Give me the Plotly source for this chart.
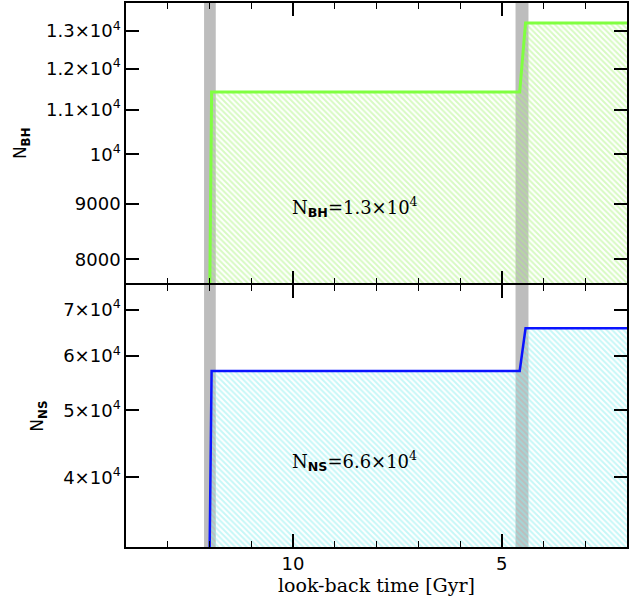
import plotly.graph_objects as go
import numpy as np

# ---- data ----
time_gyr = [12.0, 11.95, 4.57, 4.43, 2.0]          # look-back time [Gyr]
n_bh = [7000, 11415, 11415, 13224, 13224]
n_ns = [30000, 57040, 57040, 65800, 65800]
band_start = [12.13, 4.67]
band_end = [11.85, 4.36]
bh_ticks = [8000, 9000, 10000, 11000, 12000, 13000]
bh_ticktext = ["8000", "9000", "10<sup>4</sup>", "1.1×10<sup>4</sup>",
               "1.2×10<sup>4</sup>", "1.3×10<sup>4</sup>"]
ns_ticks = [40000, 50000, 60000, 70000]
ns_ticktext = ["4×10<sup>4</sup>", "5×10<sup>4</sup>", "6×10<sup>4</sup>", "7×10<sup>4</sup>"]
x_ticks = [10, 5]
x_ticktext = ["10", "5"]

SANS = "DejaVu Sans, Liberation Sans, sans-serif"
SERIF = "DejaVu Serif, Liberation Serif, serif"

fig = go.Figure()

# bottom panel (NS)
fig.add_trace(go.Scatter(
    x=time_gyr, y=n_ns, mode="lines", xaxis="x", yaxis="y",
    line=dict(color="#0a14ff", width=2.5),
    fill="tozeroy", fillcolor="rgba(0,0,0,0)",
    fillpattern=dict(shape="\\", fgcolor="#8ef0f0", bgcolor="rgba(255,255,255,0)",
                     size=4, solidity=0.5),
    showlegend=False, hoverinfo="skip"))
# top panel (BH)
fig.add_trace(go.Scatter(
    x=time_gyr, y=n_bh, mode="lines", xaxis="x2", yaxis="y2",
    line=dict(color="#80ff40", width=3),
    fill="tozeroy", fillcolor="rgba(0,0,0,0)",
    fillpattern=dict(shape="\\", fgcolor="#b0f585", bgcolor="rgba(255,255,255,0)",
                     size=4, solidity=0.5),
    showlegend=False, hoverinfo="skip"))

shapes = []
for a, b in zip(band_start, band_end):
    shapes.append(dict(type="rect", xref="x", yref="paper", x0=a, x1=b, y0=0, y1=1,
                       fillcolor="#bdbdbd", line=dict(width=0), layer="below"))

split = 0.4816
overlap = 0.0028
axis_common = dict(showline=True, linecolor="black", linewidth=1.5, mirror="allticks",
                   ticks="inside", tickcolor="black", tickwidth=1.5, showgrid=False,
                   zeroline=False)

xcommon = dict(axis_common, range=[14, 2], tickvals=x_ticks, ticklen=13,
               minor=dict(dtick=1, tick0=0, ticklen=6, ticks="inside",
                          tickcolor="black", tickwidth=1.3, showgrid=False))

fig.update_layout(
    width=630, height=610,
    margin=dict(l=126, r=1, t=3, b=63),
    paper_bgcolor="white", plot_bgcolor="rgba(0,0,0,0)",
    shapes=shapes,
    xaxis=dict(xcommon, domain=[0, 1], anchor="y", ticktext=x_ticktext,
               tickfont=dict(family=SANS, size=18, color="black"),
               title=dict(text="look-back time [Gyr]",
                          font=dict(family=SERIF, size=19, color="black"), standoff=4)),
    xaxis2=dict(xcommon, domain=[0, 1], anchor="y2", matches="x", showticklabels=False),
    yaxis=dict(axis_common, type="log", domain=[0, split], anchor="x",
               range=[np.log10(31690), np.log10(76020)],
               tickvals=ns_ticks, ticktext=ns_ticktext, ticklen=13,
               tickfont=dict(family=SANS, size=18, color="black"),
               title=dict(text="N<sub><b>NS</b></sub>", font=dict(family=SANS, size=17, color="black"))),
    yaxis2=dict(axis_common, type="log", domain=[split + overlap, 1], anchor="x2",
                range=[np.log10(7600), np.log10(13795)],
                tickvals=bh_ticks, ticktext=bh_ticktext, ticklen=13,
                tickfont=dict(family=SANS, size=18, color="black"),
                title=dict(text="N<sub><b>BH</b></sub>", font=dict(family=SANS, size=17, color="black"))),
    annotations=[
        dict(text="N<sub><span style='font-family:DejaVu Sans;font-weight:bold'>BH</span></sub>=1.3×10<sup>4</sup>",
             xref="paper", yref="paper", x=0.457, y=0.625, showarrow=False,
             font=dict(family=SERIF, size=18, color="black")),
        dict(text="N<sub><span style='font-family:DejaVu Sans;font-weight:bold'>NS</span></sub>=6.6×10<sup>4</sup>",
             xref="paper", yref="paper", x=0.457, y=0.13, showarrow=False,
             font=dict(family=SERIF, size=18, color="black")),
    ],
)

fig.write_html("out.html", config={"displayModeBar": False},
               post_script="document.body.style.margin='0px';document.body.style.overflow='hidden';")
